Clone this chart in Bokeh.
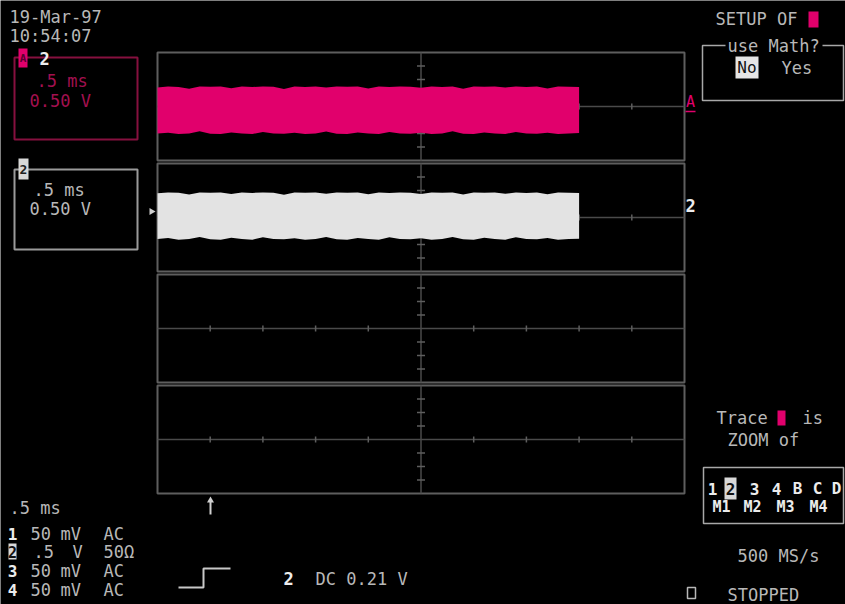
import math
from bokeh.plotting import figure
from bokeh.models import Range1d, ColumnDataSource
from bokeh.core.properties import value
from bokeh.embed import file_html
from bokeh.resources import INLINE

time_ms = [0.0, 0.1, 0.2, 0.3, 0.4, 0.5, 0.6, 0.7, 0.8, 0.9,
           1.0, 1.1, 1.2, 1.3, 1.4, 1.5, 1.6, 1.7, 1.8, 1.9,
           2.0, 2.1, 2.2, 2.3, 2.4, 2.5, 2.6, 2.7, 2.8, 2.9,
           3.0, 3.1, 3.2, 3.3, 3.4, 3.5, 3.6, 3.7, 3.8, 3.9, 4.0]
# trace A (zoom of 2): upper / lower envelope in volts
trace_a_upper = [0.70, 0.74, 0.72, 0.66, 0.74, 0.73, 0.74, 0.68, 0.74, 0.72,
                 0.74, 0.73, 0.65, 0.74, 0.72, 0.74, 0.70, 0.74, 0.73, 0.74,
                 0.67, 0.74, 0.72, 0.74, 0.73, 0.69, 0.74, 0.72, 0.74, 0.66,
                 0.74, 0.73, 0.74, 0.70, 0.74, 0.72, 0.74, 0.67, 0.74, 0.73, 0.72]
trace_a_lower = [-1.00, -0.97, -1.02, -1.00, -0.92, -1.01, -1.02, -0.96, -1.00, -1.02,
                 -0.94, -1.00, -1.01, -0.97, -1.02, -1.00, -0.93, -1.01, -1.02, -0.96,
                 -1.00, -1.02, -0.94, -1.00, -1.01, -0.97, -1.02, -1.00, -0.92, -1.01,
                 -1.02, -0.96, -1.00, -1.02, -0.94, -1.00, -1.01, -0.97, -1.02, -1.00, -0.98]
# channel 2
trace_2_upper = [0.90, 0.93, 0.92, 0.85, 0.93, 0.92, 0.93, 0.87, 0.93, 0.91,
                 0.93, 0.92, 0.84, 0.93, 0.92, 0.93, 0.88, 0.93, 0.92, 0.93,
                 0.86, 0.93, 0.91, 0.93, 0.92, 0.87, 0.93, 0.92, 0.93, 0.85,
                 0.93, 0.92, 0.93, 0.88, 0.93, 0.91, 0.93, 0.86, 0.93, 0.92, 0.91]
trace_2_lower = [-0.80, -0.76, -0.82, -0.80, -0.72, -0.81, -0.82, -0.75, -0.80, -0.82,
                 -0.73, -0.80, -0.81, -0.77, -0.82, -0.80, -0.72, -0.81, -0.82, -0.76,
                 -0.80, -0.82, -0.73, -0.80, -0.81, -0.77, -0.82, -0.80, -0.72, -0.81,
                 -0.82, -0.75, -0.80, -0.82, -0.73, -0.80, -0.81, -0.76, -0.82, -0.80, -0.79]

channel_ids = ["1", "2", "3", "4"]
channel_scale = ["50", ".5", "50", "50"]
channel_unit = ["mV", "V", "mV", "mV"]
channel_coupling = ["AC", "50Ω", "AC", "AC"]
timebase_label = ".5 ms"
volt_label = "0.50 V"
date_label = "19-Mar-97"
time_label = "10:54:07"
trigger_label = "DC 0.21 V"
sample_rate_label = "500 MS/s"
source_row1 = ["1", "2", "3", "4", "B", "C", "D"]
source_row2 = ["M1", "M2", "M3", "M4"]

# ---------------- layout / style ----------------
TIME_PER_DIV = 0.5   # ms/div
VOLT_PER_DIV = 0.5   # V/div
GRID_L = 157.0
DIV_X = 52.7
PANEL_TOPS = [52.0, 163.0, 274.0, 385.0]
PANEL_H = 108.0
DIV_Y = PANEL_H / 8.0
X0, X1, Y0, Y1 = 0, 845, 0, 604

FONT = "DejaVu Sans Mono"
GREY = "#b8b8b8"
WHITE = "#ececec"
PINK = "#e1006c"
DPINK = "#a3104f"
GRID = "#5e5e5e"
GRID2 = "#4a4a4a"

p = figure(width=X1 - X0, height=Y1 - Y0,
           x_range=Range1d(X0, X1), y_range=Range1d(Y1, Y0),
           output_backend="svg", toolbar_location=None,
           x_axis_location=None, y_axis_location=None,
           min_border=0, background_fill_color="black",
           border_fill_color="black", outline_line_color=None)
p.grid.visible = False

px_per_ms = DIV_X / TIME_PER_DIV
px_per_v = DIV_Y / VOLT_PER_DIV
p.extra_x_ranges = {"t": Range1d((X0 - GRID_L) / px_per_ms, (X1 - GRID_L) / px_per_ms)}
yr = {}
for i, top in enumerate(PANEL_TOPS):
    c = top + PANEL_H / 2
    yr[f"p{i}"] = Range1d((c - Y1) / px_per_v, (c - Y0) / px_per_v)
p.extra_y_ranges = yr

# ---------------- graticule ----------------
GRID_R = GRID_L + 10 * DIV_X
XC = GRID_L + 5 * DIV_X
for top in PANEL_TOPS:
    bot = top + PANEL_H
    yc = top + PANEL_H / 2
    p.quad(left=[GRID_L], right=[GRID_R], top=[top], bottom=[bot],
           fill_alpha=0, line_color=GRID, line_width=2)
    p.segment(x0=[GRID_L, XC], y0=[yc, top], x1=[GRID_R, XC], y1=[yc, bot],
              line_color=GRID2, line_width=1.5)
    tx = [GRID_L + k * DIV_X for k in range(1, 10) if k != 5]
    p.segment(x0=tx, y0=[yc - 3] * len(tx), x1=tx, y1=[yc + 3] * len(tx),
              line_color=GRID, line_width=1.5)
    ty = [top + j * DIV_Y for j in range(1, 8) if j != 4]
    p.segment(x0=[XC - 4] * len(ty), y0=ty, x1=[XC + 4] * len(ty), y1=ty,
              line_color=GRID, line_width=1.5)

# ---------------- traces ----------------
src_a = ColumnDataSource(dict(t=time_ms, hi=trace_a_upper, lo=trace_a_lower))
src_2 = ColumnDataSource(dict(t=time_ms, hi=trace_2_upper, lo=trace_2_lower))
p.varea(x="t", y1="lo", y2="hi", source=src_a, x_range_name="t", y_range_name="p0",
        fill_color=PINK)
p.varea(x="t", y1="lo", y2="hi", source=src_2, x_range_name="t", y_range_name="p1",
        fill_color="#e3e3e3")


def txt(x, y, s, color=GREY, size=17, bold=False, align="left"):
    p.text(x=[x], y=[y], text=[s], text_color=color, text_font=value(FONT),
           text_font_size=f"{size}px", text_font_style="bold" if bold else "normal",
           text_align=align, text_baseline="middle")


def block(l, r, t, b, color):
    p.quad(left=[l], right=[r], top=[t], bottom=[b], fill_color=color, line_color=None)


def frame(l, r, t, b, color, w=1.5):
    p.quad(left=[l], right=[r], top=[t], bottom=[b], fill_alpha=0,
           line_color=color, line_width=w)

# ---------------- top-left ----------------
txt(9, 16, date_label)
txt(9, 35, time_label)

# trace A descriptor box
frame(14, 137, 57, 139, "#86103f", 2)
block(18, 27, 48, 67, PINK)
txt(22.5, 58, "A", "#5a0030", 11, True, "center")
txt(39, 58, "2", WHITE, 17, True)
txt(36, 80, timebase_label, DPINK)
txt(29, 100, volt_label, DPINK)

# channel 2 descriptor box
frame(14, 137, 169, 249, "#9a9a9a", 2)
block(18, 28, 158, 179, "#d8d8d8")
txt(23, 168.5, "2", "#202020", 13, True, "center")
txt(33, 189, timebase_label)
txt(29, 208, volt_label)
p.scatter(x=[151], y=[211], marker="triangle", angle=-math.pi / 2, size=7,
          fill_color="#cfcfcf", line_color=None)

# trace markers on the right of the grid
txt(690, 101, "A", PINK, 15, False, "center")
p.segment(x0=[685], y0=[111], x1=[695], y1=[111], line_color=PINK, line_width=1.5)
txt(690, 205, "2", WHITE, 17, True, "center")

# ---------------- top-right ----------------
txt(715, 18, "SETUP OF")
block(808, 818, 11, 27, PINK)
p.multi_line(xs=[[725, 702, 702, 843, 843, 822]], ys=[[45, 45, 100, 100, 45, 45]],
             line_color="#a8a8a8", line_width=1.5)
txt(727, 45, "use Math?")
block(735, 758, 56, 78, "#e6e6e6")
txt(746.5, 67, "No", "#101010", 16, False, "center")
txt(781, 67, "Yes")

# ---------------- bottom-right ----------------
txt(716, 417, "Trace")
block(777, 785, 410, 425, PINK)
txt(802, 417, "is")
txt(727, 439, "ZOOM of")
frame(703, 843, 467, 523, "#a8a8a8", 1.5)
row1_x = [712, 730, 754, 776, 797, 817, 836]
block(724, 736, 477, 499, "#d8d8d8")
for xx, s in zip(row1_x, source_row1):
    col = "#101010" if s == "2" else WHITE
    txt(xx, 488, s, col, 16, True, "center")
row2_x = [721, 752, 785, 818]
for xx, s in zip(row2_x, source_row2):
    txt(xx, 506, s, WHITE, 15, True, "center")
txt(737, 555, sample_rate_label)
frame(687, 695, 587, 598, GREY, 1.5)
txt(727, 594, "STOPPED")

# ---------------- bottom-left ----------------
txt(9, 507, timebase_label)
row_y = [533, 551, 570, 589]
for cid, sc, un, cp, yy in zip(channel_ids, channel_scale, channel_unit, channel_coupling, row_y):
    if cid == "2":
        block(8, 16, yy - 8, yy + 8, "#d8d8d8")
        txt(12, yy, cid, "#101010", 15, True, "center")
        txt(33, yy, sc)
        txt(72, yy, un)
    else:
        txt(12, yy, cid, WHITE, 16, True, "center")
        txt(30, yy, sc)
        txt(60, yy, un)
    txt(103, yy, cp)

# trigger position arrow
p.segment(x0=[210], y0=[501], x1=[210], y1=[514], line_color="#d0d0d0", line_width=2)
p.scatter(x=[210], y=[500], marker="triangle", size=7, fill_color="#d0d0d0", line_color=None)

# trigger slope symbol and level
p.line(x=[178, 203, 203, 230], y=[587, 587, 568, 568], line_color="#c8c8c8", line_width=2)
txt(288, 578, "2", WHITE, 17, True, "center")
txt(315, 578, trigger_label)

open("out.html", "w").write(file_html(p, INLINE))
